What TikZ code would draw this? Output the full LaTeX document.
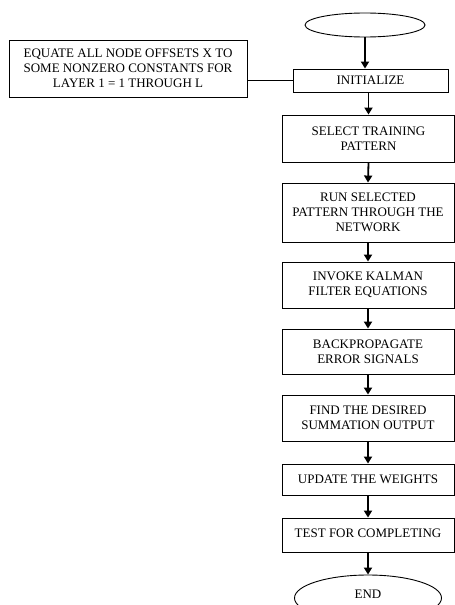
\documentclass[tikz,border=0pt]{standalone}
\usepackage{fontspec}
\setmainfont{Liberation Serif}
\usetikzlibrary{shapes.geometric,arrows.meta}
\tikzset{
  paso/.style={draw, line width=0.9pt, minimum width=172pt, align=center,
    inner sep=1pt, font=\fontsize{13}{15}\selectfont},
  terminal/.style={draw, ellipse, line width=0.9pt, inner sep=0pt,
    font=\fontsize{13}{15}\selectfont},
  flecha/.style={line width=1.8pt, -{Triangle[width=8pt,length=7pt]}}
}
\begin{document}
\begin{tikzpicture}[x=1pt,y=-1pt]
        \clip (0,0) rectangle (455,605);

        % Inicio
        \node[terminal, minimum width=120pt, minimum height=24pt] (start) at (365,25) {};

        % Nota lateral
        \node[paso, minimum width=238pt, minimum height=57pt] (equate) at (128,68.5)
          {EQUATE ALL NODE OFFSETS X TO\\SOME NONZERO CONSTANTS FOR\\LAYER 1 = 1 THROUGH L};

        % Pasos del algoritmo
        \node[paso, minimum width=155pt, minimum height=23pt] (init) at (370.5,80.5) {INITIALIZE};
        \node[paso, minimum height=47pt] (select) at (368.5,138.5) {SELECT TRAINING\\PATTERN};
        \node[paso, minimum height=59pt] (run) at (368,212.5) {RUN SELECTED\\PATTERN THROUGH THE\\NETWORK};
        \node[paso, minimum height=46pt] (invoke) at (368,285) {INVOKE KALMAN\\FILTER EQUATIONS};
        \node[paso, minimum height=45pt] (backprop) at (368,351.5) {BACKPROPAGATE\\ERROR SIGNALS};
        \node[paso, minimum height=46pt] (find) at (368,418) {FIND THE DESIRED\\SUMMATION OUTPUT};
        \node[paso, minimum height=31pt] (update) at (368,479.5) {UPDATE THE WEIGHTS};
        \node[paso, minimum height=34pt] (test) at (368,535) {\raisebox{4pt}{TEST FOR COMPLETING}};

        % Fin
        \node[terminal, minimum width=147pt, minimum height=46pt] (finish) at (368,598) {\raisebox{8pt}{END}};

        % Conexiones
        \draw[line width=0.9pt] (init.west) -- (init.west -| equate.east);
        \draw[flecha] (start.south) -- (start.south |- init.north);
        \draw[flecha] (init.south -| select.north) -- (select.north);
        \draw[flecha] (select.south) -- (run.north);
        \draw[flecha] (run.south) -- (invoke.north);
        \draw[flecha] (invoke.south) -- (backprop.north);
        \draw[flecha] (backprop.south) -- (find.north);
        \draw[flecha] (find.south) -- (update.north);
        \draw[flecha] (update.south) -- (test.north);
        \draw[flecha] (test.south) -- (finish.north);
    \end{tikzpicture}
\end{document}
